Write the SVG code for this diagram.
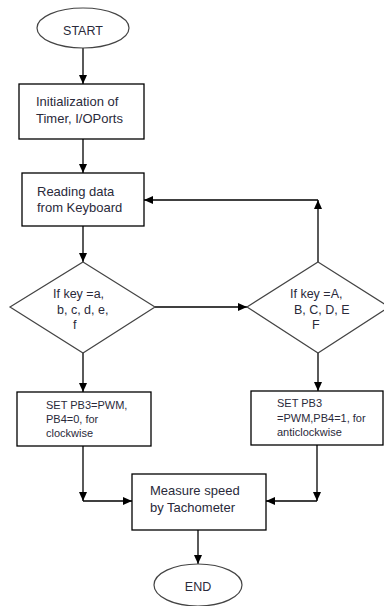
<svg xmlns="http://www.w3.org/2000/svg" width="384" height="606" viewBox="0 0 384 606">
<defs>
<style>
.box{fill:#fff;stroke:#000;stroke-width:1.3}
.dia{fill:#fff;stroke:#444;stroke-width:1.2}
.ln{fill:none;stroke:#000;stroke-width:1.3}
.t{font-family:"Liberation Sans",Arial,sans-serif;font-size:13px;fill:#2a2a3a}
.td{font-family:"Liberation Sans",Arial,sans-serif;font-size:12.5px;fill:#2a2a3a}
.ts{font-family:"Liberation Sans",Arial,sans-serif;font-size:11px;fill:#2a2a3a}
</style>
<marker id="ah" markerUnits="userSpaceOnUse" markerWidth="9" markerHeight="8" viewBox="0 0 9 8" refX="9" refY="4" orient="auto">
<path d="M0,0 L9,4 L0,8 z" fill="#000"/>
</marker>
</defs>
<rect width="384" height="606" fill="#fff"/>
<g id="connectors">
<line class="ln" x1="83" y1="48" x2="83" y2="84" marker-end="url(#ah)"/>
<line class="ln" x1="83" y1="139" x2="83" y2="173" marker-end="url(#ah)"/>
<line class="ln" x1="83" y1="226" x2="83" y2="262" marker-end="url(#ah)"/>
<line class="ln" x1="155" y1="307" x2="247" y2="307" marker-end="url(#ah)"/>
<line class="ln" x1="318" y1="262" x2="318" y2="200" marker-end="url(#ah)"/>
<line class="ln" x1="318" y1="200" x2="144" y2="200" marker-end="url(#ah)"/>
<line class="ln" x1="83" y1="353" x2="83" y2="392" marker-end="url(#ah)"/>
<line class="ln" x1="318" y1="353" x2="318" y2="391" marker-end="url(#ah)"/>
<line class="ln" x1="83" y1="446" x2="83" y2="501" marker-end="url(#ah)"/>
<line class="ln" x1="83" y1="501" x2="132" y2="501" marker-end="url(#ah)"/>
<line class="ln" x1="317" y1="445" x2="317" y2="501" marker-end="url(#ah)"/>
<line class="ln" x1="317" y1="501" x2="266" y2="501" marker-end="url(#ah)"/>
<line class="ln" x1="198" y1="530" x2="198" y2="564" marker-end="url(#ah)"/>
</g>
<g id="start">
<ellipse cx="83" cy="28" rx="46" ry="20" class="dia"/>
<text class="td" x="83" y="35" text-anchor="middle">START</text>
</g>
<g id="init">
<rect class="box" x="19" y="84" width="125" height="55"/>
<text class="t" x="36" y="106">Initialization of</text>
<text class="t" x="36" y="123">Timer, I/OPorts</text>
</g>
<g id="read">
<rect class="box" x="22" y="173" width="122" height="53"/>
<text class="t" x="37" y="196">Reading data</text>
<text class="t" x="37" y="212">from Keyboard</text>
</g>
<g id="dec1">
<polygon class="dia" points="83,262 155,307 83,353 10,307"/>
<text class="td" x="53" y="298">If key =a,</text>
<text class="td" x="57" y="314">b, c, d, e,</text>
<text class="td" x="73" y="329">f</text>
</g>
<g id="dec2">
<polygon class="dia" points="318,262 389,307 318,353 247,307"/>
<text class="td" x="290" y="298">If key =A,</text>
<text class="td" x="294" y="314">B, C, D, E</text>
<text class="td" x="312" y="329">F</text>
</g>
<g id="cw">
<rect class="box" x="17" y="392" width="134" height="54"/>
<text class="ts" x="46" y="409">SET PB3=PWM,</text>
<text class="ts" x="46" y="423">PB4=0, for</text>
<text class="ts" x="46" y="437">clockwise</text>
</g>
<g id="acw">
<rect class="box" x="251" y="391" width="132" height="54"/>
<text class="ts" x="277" y="407">SET PB3</text>
<text class="ts" x="277" y="422">=PWM,PB4=1, for</text>
<text class="ts" x="277" y="436">anticlockwise</text>
</g>
<g id="measure">
<rect class="box" x="132" y="474" width="134" height="56"/>
<text class="t" x="150" y="495">Measure speed</text>
<text class="t" x="150" y="512">by Tachometer</text>
</g>
<g id="end">
<ellipse cx="198" cy="585" rx="44" ry="21" class="dia"/>
<text class="td" x="198" y="591" text-anchor="middle">END</text>
</g>
</svg>
